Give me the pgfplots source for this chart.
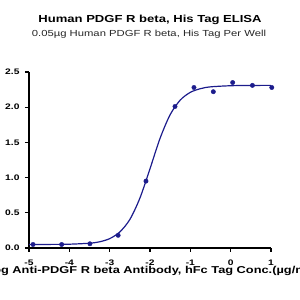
\documentclass[border=0pt]{standalone}
\usepackage{pgfplots}
\pgfplotsset{compat=1.18}
\usepackage{fontspec}
\setmainfont{Liberation Sans}[FakeStretch=1.28]
\definecolor{curve}{RGB}{28,28,140}
\begin{document}
\begin{tikzpicture}[x=1pt,y=1pt]
\clip (0,0) rectangle (300,300);
\path[use as bounding box] (0,0) rectangle (300,300);
\node[font=\bfseries\fontsize{10.2}{12}\selectfont] at (150,280) {Human PDGF R beta, His Tag ELISA};
\node[font=\fontsize{8.8}{11}\selectfont, text=black!85] at (149,265.5) {0.05µg Human PDGF R beta, His Tag Per Well};
\begin{axis}[
  at={(29pt,52pt)}, anchor=south west,
  scale only axis, width=242pt, height=176pt,
  xmin=-5, xmax=1, ymin=0, ymax=2.5,
  axis x line*=bottom, axis y line*=left,
  axis line style={line width=1.4pt},
  xtick={-5,-4,-3,-2,-1,0,1},
  ytick={0,0.5,1,1.5,2,2.5},
  tick align=outside, major tick length=4pt,
  tick style={line width=1.1pt, black},
  ticklabel style={font=\bfseries\fontsize{8}{9}\selectfont},
  xticklabel style={yshift=-4pt},
  yticklabel style={xshift=-2pt},
  y tick label style={/pgf/number format/.cd, fixed, fixed zerofill, precision=1},
  /pgf/number format/assume math mode=true,
  xlabel={Log Anti-PDGF R beta Antibody, hFc Tag Conc.(µg/ml)},
  xlabel style={font=\bfseries\fontsize{10}{12}\selectfont, at={(axis description cs:0.5,0)}, anchor=center, yshift=-23pt},
  clip=false,
]
\addplot[curve, line width=1.2pt, smooth, no marks] coordinates {
(-5,0.050) (-4.5,0.051) (-4,0.054) (-3.5,0.068) (-3.25,0.088) (-3,0.133) (-2.75,0.227) (-2.5,0.405) (-2.25,0.709) (-2,1.126) (-1.75,1.559) (-1.5,1.894) (-1.25,2.101) (-1,2.211) (-0.75,2.263) (-0.5,2.289) (0,2.305) (0.5,2.309) (1,2.310)
};
\addplot[only marks, mark=*, mark size=2.2pt, curve] coordinates {
(-4.90,0.05) (-4.19,0.05) (-3.49,0.06) (-2.79,0.18) (-2.10,0.95) (-1.38,2.01) (-0.91,2.28) (-0.43,2.22) (0.05,2.35) (0.54,2.31) (1.02,2.28)
};
\end{axis}
\end{tikzpicture}
\end{document}
